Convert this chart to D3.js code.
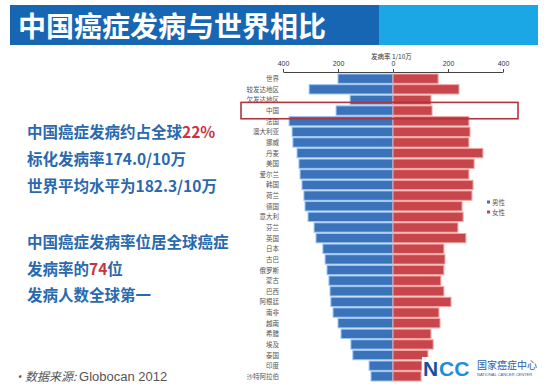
<!DOCTYPE html>
<html>
<head>
<meta charset="utf-8">
<script src="https://cdn.jsdelivr.net/npm/d3@7"></script>
<style>
  body { margin: 0; background: #fff; }
  svg { display: block; font-family: "Noto Sans CJK SC", "Noto Sans", sans-serif; }
</style>
</head>
<body>
<script>
// donnees (taux d'incidence pour 100 000)
const countries = ["世界", "较发达地区", "欠发达地区", "中国", "法国", "澳大利亚", "挪威", "丹麦", "美国", "爱尔兰",
  "韩国", "荷兰", "德国", "意大利", "芬兰", "英国", "日本", "古巴", "俄罗斯", "蒙古",
  "巴西", "阿根廷", "南非", "越南", "希腊", "埃及", "泰国", "印度", "沙特阿拉伯"];
const male = [200, 305, 156, 207, 378, 367, 364, 349, 342, 338,
  331, 324, 320, 309, 287, 280, 255, 247, 240, 233,
  229, 226, 218, 200, 189, 153, 146, 87, 80];
const female = [164, 240, 138, 142, 276, 280, 276, 327, 295, 276,
  291, 287, 251, 255, 236, 265, 185, 189, 185, 174,
  185, 211, 167, 171, 138, 146, 127, 105, 102];
const ticks = [0, 200, 400];
const legendLabels = ["男性", "女性"];
const highlight = "中国";

const W = 548, H = 391;
const BLUE = "#3b73ba", RED = "#c8454b";

const svg = d3.select("body").append("svg").attr("width", W).attr("height", H);

// bandeau du titre
svg.append("rect").attr("x", 10).attr("y", 5).attr("width", 528).attr("height", 40).attr("fill", "#1ba6e6");
svg.append("rect").attr("x", 10).attr("y", 5).attr("width", 369).attr("height", 40).attr("fill", "#1766b3");
svg.append("text").attr("x", 18).attr("y", 37).attr("fill", "#fff")
  .attr("font-size", 28).attr("font-weight", "bold").text("中国癌症发病与世界相比");

// echelles
const y = d3.scaleBand().domain(countries).range([74, 381]).paddingInner(0.12);
const xL = d3.scaleLinear().domain([0, 400]).range([393, 283]);
const xR = d3.scaleLinear().domain([0, 400]).range([393, 503]);

const g = svg.append("g");

// barres hommes (gauche)
g.selectAll(".m").data(countries).enter().append("rect")
  .attr("class", "m")
  .attr("x", (d, i) => xL(male[i]))
  .attr("y", d => y(d))
  .attr("width", (d, i) => xL(0) - xL(male[i]))
  .attr("height", y.bandwidth())
  .attr("fill", BLUE)
  .attr("stroke", "#9fc6f2").attr("stroke-width", 1);

// barres femmes (droite)
g.selectAll(".f").data(countries).enter().append("rect")
  .attr("class", "f")
  .attr("x", xR(0))
  .attr("y", d => y(d))
  .attr("width", (d, i) => xR(female[i]) - xR(0))
  .attr("height", y.bandwidth())
  .attr("fill", RED)
  .attr("stroke", "#f3a7a3").attr("stroke-width", 1);

// noms des pays
g.selectAll(".lab").data(countries).enter().append("text")
  .attr("x", 279)
  .attr("y", d => y(d) + y.bandwidth() / 2 + 2.5)
  .attr("text-anchor", "end")
  .attr("font-size", 6.5).attr("fill", "#555")
  .text(d => d);

// axe du haut
const axisY = 72;
const axL = svg.append("g").attr("transform", "translate(0," + axisY + ")")
  .call(d3.axisTop(xL).tickValues(ticks).tickSize(3).tickSizeOuter(0));
const axR = svg.append("g").attr("transform", "translate(0," + axisY + ")")
  .call(d3.axisTop(xR).tickValues(ticks.slice(1)).tickSize(3).tickSizeOuter(0));
[axL, axR].forEach(a => {
  a.selectAll("path,line").attr("stroke", "#444");
  a.selectAll("text").attr("font-size", 7).attr("fill", "#333").attr("font-family", "Liberation Sans, sans-serif");
});
svg.append("text").attr("x", 371).attr("y", 59).attr("font-size", 6.5).attr("fill", "#333")
  .text("发病率  1/10万");

// cadre autour de la Chine
svg.append("rect")
  .attr("x", 241).attr("y", y(highlight) - 3.5)
  .attr("width", 277).attr("height", y.bandwidth() + 7)
  .attr("fill", "none").attr("stroke", "#b03540").attr("stroke-width", 1.6);

// legende
const leg = svg.append("g").attr("transform", "translate(487,203)");
legendLabels.forEach((t, i) => {
  leg.append("rect").attr("x", 0).attr("y", i * 10 - 2.5).attr("width", 3).attr("height", 3)
    .attr("fill", i === 0 ? BLUE : RED);
  leg.append("text").attr("x", 5).attr("y", i * 10 + 1.5).attr("font-size", 6.5).attr("fill", "#555").text(t);
});

// texte de gauche
const txt = svg.append("g").attr("font-size", 15.5).attr("font-weight", "bold").attr("fill", "#2a69ad");
const lines = [
  [["中国癌症发病约占全球", null], ["22%", "#c8333f"]],
  [["标化发病率174.0/10万", null]],
  [["世界平均水平为182.3/10万", null]],
  [["中国癌症发病率位居全球癌症", null]],
  [["发病率的", null], ["74", "#c8333f"], ["位", null]],
  [["发病人数全球第一", null]]
];
const lineY = [138, 165, 192, 248, 275, 301];
lines.forEach((parts, i) => {
  const t = txt.append("text").attr("x", 27).attr("y", lineY[i]);
  parts.forEach(p => {
    const s = t.append("tspan").text(p[0]);
    if (p[1]) s.attr("fill", p[1]);
  });
});

// source
const src = svg.append("text").attr("x", 13).attr("y", 381).attr("fill", "#555");
src.append("tspan").attr("font-size", 12).attr("font-style", "italic").attr("font-family", "Noto Sans CJK SC").text("•数据来源: ");
src.append("tspan").attr("font-size", 13).attr("font-family", "Liberation Sans, sans-serif").text("Globocan 2012");

// logo NCC
const logo = svg.append("g").attr("transform", "translate(422,357)");
logo.append("rect").attr("x", 0).attr("y", 0).attr("width", 122).attr("height", 22).attr("fill", "#fff");
logo.append("text").attr("x", 1).attr("y", 19).attr("font-size", 21).attr("font-weight", "bold")
  .attr("font-family", "Liberation Sans, sans-serif").attr("fill", "#1b4f9c").text("N");
logo.append("text").attr("x", 17).attr("y", 19).attr("font-size", 21).attr("font-weight", "bold")
  .attr("font-family", "Liberation Sans, sans-serif").attr("fill", "#1d8fd8").text("CC");
logo.append("text").attr("x", 55).attr("y", 12).attr("font-size", 10).attr("fill", "#1f5da8").text("国家癌症中心");
logo.append("text").attr("x", 55).attr("y", 18.5).attr("font-size", 4).attr("fill", "#1f5da8")
  .attr("font-family", "Liberation Sans, sans-serif").text("NATIONAL CANCER CENTER");
</script>
</body>
</html>
